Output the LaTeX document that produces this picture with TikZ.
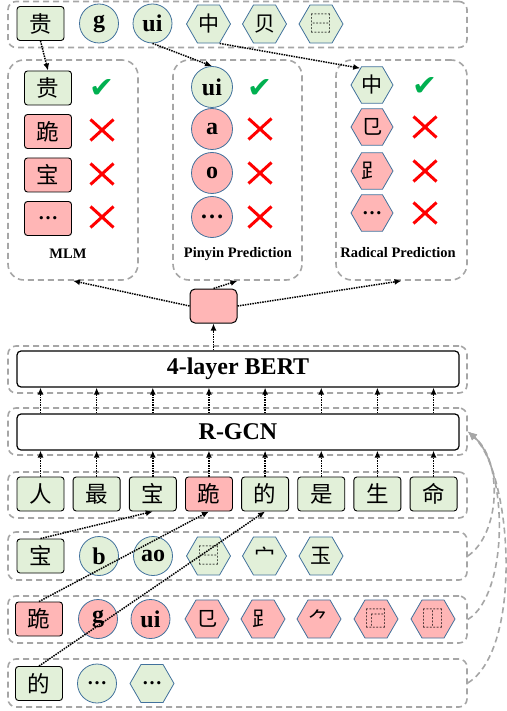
\documentclass[tikz,border=0pt]{standalone}
\usepackage{fontspec}
\setmainfont{Liberation Serif}
\newfontfamily\cjk{Noto Sans CJK SC}
\newfontfamily\sym{DejaVu Sans}
\usepackage{tikz}
\usetikzlibrary{arrows.meta,shapes.geometric,shapes.misc}
\definecolor{lightgreen}{HTML}{E2F0D9}
\definecolor{lightpink}{HTML}{FFB6B6}
\definecolor{rimblue}{HTML}{41719C}
\definecolor{framegray}{HTML}{A6A6A6}
\definecolor{okgreen}{HTML}{00B050}
\newcommand{\okmark}{\resizebox{25pt}{18pt}{\sym ✔}}

\begin{document}
\begin{tikzpicture}[x=1pt, y=-1pt,
  frame/.style={draw=framegray, line width=1.6pt, dash pattern=on 6pt off 4pt, rounded corners=8pt, minimum width=459pt},
  hanzi/.style={draw, line width=0.9pt, rounded corners=3pt, minimum width=47pt, minimum height=34pt, inner sep=0pt, fill=lightgreen, font=\cjk\fontsize{22.5}{22.5}\selectfont},
  pinyin/.style={circle, draw=rimblue, line width=0.8pt, minimum size=39pt, inner sep=0pt, fill=lightgreen, font=\bfseries\fontsize{24}{24}\selectfont},
  radical/.style={regular polygon, regular polygon sides=6, draw=rimblue, line width=0.8pt, minimum size=44pt, inner sep=0pt, fill=lightgreen, font=\cjk\fontsize{21}{21}\selectfont},
  wrong/.style={fill=lightpink},
  dots/.style={font=\bfseries\fontsize{20}{20}\selectfont},
  nogo/.style={cross out, draw=red, line width=3pt, minimum width=20pt, minimum height=18pt, inner sep=0pt},
  layer/.style={draw, line width=1.2pt, rounded corners=4pt, minimum width=442pt, minimum height=36pt, font=\bfseries\fontsize{24}{24}\selectfont},
  tag/.style={font=\bfseries\fontsize{14.5}{14.5}\selectfont},
  link/.style={densely dotted, line width=1.5pt, -{Latex[length=7pt,width=6pt]}},
  back/.style={draw=framegray, line width=1.6pt, dash pattern=on 6pt off 4pt, -{Latex[length=9pt,width=8pt]}}]
	\useasboundingbox (0,0) rectangle (506,711);
	% input character with pinyin and radicals
	\node[frame, minimum height=46pt] (inframe) at (237.5,24.5) {};
	\node[hanzi] (in1) at (40.5,23.5) {贵};
	\node[pinyin] (in2) at (99,23.5) {g};
	\node[pinyin] (in3) at (152.5,23.5) {ui};
	\node[radical] (in4) at (208.5,24) {中};
	\node[radical] (in5) at (264.5,24) {贝};
	\node[radical] (in6) at (321,24) {⿱};
	% prediction heads
	\node[frame, rounded corners=16pt, minimum width=130pt, minimum height=220pt] (mlm) at (73,170) {};
	\node[hanzi] (m1) at (48,88) {贵};
	\node[hanzi, wrong] (m2) at (48,131.5) {跪};
	\node[hanzi, wrong] (m3) at (48,175) {宝};
	\node[hanzi, wrong, dots] (m4) at (48,218.5) {…};
	\node[text=okgreen] (m1ok) at (102,89) {\okmark};
	\node[nogo] (m2no) at (102,130) {};
	\node[nogo] (m3no) at (102,174) {};
	\node[nogo] (m4no) at (102,217) {};
	\node[tag] (mlmtag) at (68,254) {MLM};
	\node[frame, rounded corners=16pt, minimum width=129pt, minimum height=220pt] (pyframe) at (237.5,170) {};
	\node[pinyin, minimum size=41pt] (p1) at (212,87) {ui};
	\node[pinyin, wrong, minimum size=41pt] (p2) at (212,129) {a};
	\node[pinyin, wrong, minimum size=41pt] (p3) at (212,173) {o};
	\node[pinyin, wrong, minimum size=41pt] (p4) at (212,217) {…};
	\node[text=okgreen] (p1ok) at (260,89) {\okmark};
	\node[nogo] (p2no) at (260,129) {};
	\node[nogo] (p3no) at (260,173) {};
	\node[nogo] (p4no) at (260,217) {};
	\node[tag] (pytag) at (238,254) {Pinyin Prediction};
	\node[frame, rounded corners=16pt, minimum width=131pt, minimum height=220pt] (radframe) at (401.5,170) {};
	\node[radical, minimum size=42pt] (r1) at (372,85) {中};
	\node[radical, wrong, minimum size=42pt] (r2) at (372,127) {㔾};
	\node[radical, wrong, minimum size=42pt] (r3) at (372,171) {⻊};
	\node[radical, wrong, minimum size=42pt, dots] (r4) at (372,213) {…};
	\node[text=okgreen] (r1ok) at (425,87) {\okmark};
	\node[nogo] (r2no) at (425,127) {};
	\node[nogo] (r3no) at (425,171) {};
	\node[nogo] (r4no) at (425,213) {};
	\node[tag] (radtag) at (398,253) {Radical Prediction};
	\draw[link] (in1.south) -- (m1.north);
	\draw[link] (in3.south) -- (p1.north);
	\draw[link] (in4.300) -- (r1.125);
	% encoder
	\node[hanzi, wrong, rounded corners=5pt, line width=1pt] (out) at (213.5,306) {};
	\draw[link] (out.west) -- (mlm.south);
	\draw[link] (out.north) -- (pyframe.south);
	\draw[link] (out.east) -- (radframe.south);
	\node[frame, minimum height=47pt] (bertframe) at (237.5,369.5) {};
	\node[layer] (bert) at (238,369) {4-layer BERT};
	\node[frame, minimum height=47pt] (gcnframe) at (237.5,431.5) {};
	\node[layer] (gcn) at (238,432) {R-GCN};
	\draw[link] (out.south |- bert.north) -- (out.south);
	% sentence
	\node[frame, minimum height=46pt] (sentframe) at (237.5,495) {};
	\foreach \c/\f [count=\i] in {人/lightgreen, 最/lightgreen, 宝/lightgreen, 跪/lightpink, 的/lightgreen, 是/lightgreen, 生/lightgreen, 命/lightgreen} {
	  \node[hanzi, fill=\f] (s\i) at ({40.5+56.15*(\i-1)},494) {\c};
	  \draw[link] (s\i.north) -- (s\i.north |- gcn.south);
	  \draw[link] (s\i.north |- gcn.north) -- (s\i.north |- bert.south);
	}
	% graphs of single characters
	\node[frame, minimum height=48pt] (row2) at (237.5,556) {};
	\node[hanzi] (b1) at (40.5,556) {宝};
	\node[pinyin] (b2) at (99,556) {b};
	\node[pinyin] (b3) at (153,556) {ao};
	\node[radical] (b4) at (208.5,556) {⿱};
	\node[radical] (b5) at (264.5,556) {宀};
	\node[radical] (b6) at (321,556) {玉};
	\node[frame, minimum height=47pt] (row3) at (237.5,619.5) {};
	\node[hanzi, wrong] (g1) at (39,619) {跪};
	\node[pinyin, wrong] (g2) at (98,619) {g};
	\node[pinyin, wrong] (g3) at (150.5,619) {ui};
	\node[radical, wrong] (g4) at (207,619) {㔾};
	\node[radical, wrong] (g5) at (263,619) {⻊};
	\node[radical, wrong] (g6) at (319,619) {⺈};
	\node[radical, wrong] (g7) at (376,619) {⿸};
	\node[radical, wrong] (g8) at (433,619) {⿰};
	\node[frame, minimum height=48pt] (row4) at (237.5,683) {};
	\node[hanzi] (d1) at (39,683.5) {的};
	\node[pinyin, dots] (d2) at (97,683.5) {…};
	\node[radical, dots] (d3) at (152,683.5) {…};
	\draw[link] (b1.north) -- (s3.south);
	\draw[link] (g1.north) -- (s4.south);
	\draw[link] (d1.north) -- (s5.south);
	\draw[back] (row2.east) .. controls +(32,-22) and +(36,30) .. (gcnframe.east);
	\draw[back] (row3.east) .. controls +(42,-26) and +(40,34) .. (gcnframe.east);
	\draw[back] (row4.east) .. controls +(56,-35) and +(44,40) .. (gcnframe.east);
\end{tikzpicture}
\end{document}
